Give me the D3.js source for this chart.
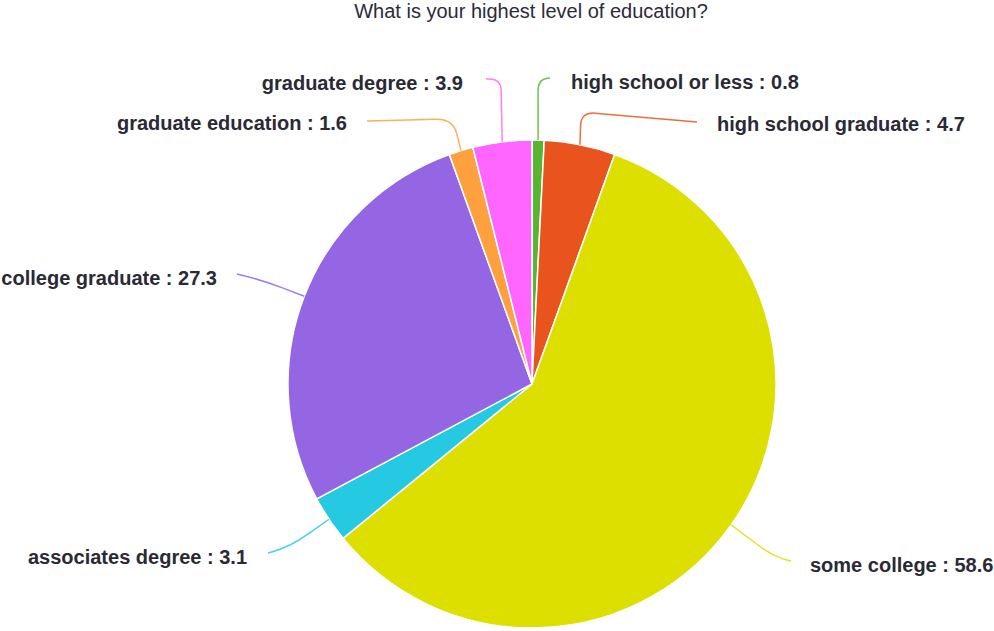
<!DOCTYPE html>
<html>
<head>
<meta charset="utf-8">
<script src="https://cdn.jsdelivr.net/npm/d3@7"></script>
<style>
  html, body { margin: 0; padding: 0; background: #ffffff; }
  svg { display: block; }
</style>
</head>
<body>
<svg id="chart" width="994" height="631"></svg>
<script>
// Survey answers, in drawing order (clockwise from 12 o'clock)
const categories = [
  "high school or less",
  "high school graduate",
  "some college",
  "associates degree",
  "college graduate",
  "graduate education",
  "graduate degree"
];
const values = [0.8, 4.7, 58.6, 3.1, 27.3, 1.6, 3.9];
const colors = ["#58b531", "#e9531d", "#dcdf00", "#26c9e2", "#9466e4", "#ffa03f", "#ff66ff"];
const title = "What is your highest level of education?";

// Label placement: connector elbow/end, corner rounding and text anchor for each slice
const labelLayout = [
  { elbow: [538, 79],  end: [550, 78],  round: 12, tx: 571, ty: 89,  anchor: "start" },
  { elbow: [581, 112], end: [697, 122], round: 14, tx: 717, ty: 131, anchor: "start" },
  { elbow: [774, 557], end: [791, 561], round: 20, tx: 810, ty: 572, anchor: "start" },
  { elbow: [290, 547], end: [268, 553], round: 22, tx: 247, ty: 564, anchor: "end" },
  { elbow: [262, 280], end: [237, 274], round: 22, tx: 217, ty: 285, anchor: "end" },
  { elbow: [453, 119], end: [367, 121], round: 16, tx: 347, ty: 130, anchor: "end" },
  { elbow: [501, 79],  end: [486, 79],  round: 12, tx: 463, ty: 90,  anchor: "end" }
];

const cx = 532, cy = 384, radius = 244;
const svg = d3.select("#chart");

svg.append("text")
  .attr("x", 531)
  .attr("y", 18)
  .attr("text-anchor", "middle")
  .attr("font-family", "Liberation Sans, Arial, sans-serif")
  .attr("font-size", 20)
  .attr("fill", "#2b2b3a")
  .text(title);

const data = categories.map((c, i) => ({ name: c, value: values[i], color: colors[i], layout: labelLayout[i] }));

const pie = d3.pie().sort(null).value(d => d.value);
const arcs = pie(data);

const arc = d3.arc().innerRadius(0).outerRadius(radius);
const edge = d3.arc().innerRadius(radius).outerRadius(radius);

const g = svg.append("g").attr("transform", `translate(${cx},${cy})`);

g.selectAll("path.slice")
  .data(arcs)
  .enter()
  .append("path")
  .attr("class", "slice")
  .attr("d", arc)
  .attr("fill", d => d.data.color)
  .attr("stroke", "#ffffff")
  .attr("stroke-width", 1.5)
  .attr("stroke-linejoin", "round");

// Connector with a rounded elbow: edge point -> elbow -> end
function connector(p0, elbow, end, r0) {
  const d1 = Math.hypot(elbow[0] - p0[0], elbow[1] - p0[1]);
  const d2 = Math.hypot(end[0] - elbow[0], end[1] - elbow[1]);
  const ra = Math.min(r0, d1 * 0.6), rb = Math.min(r0, d2 * 0.8);
  const a = [elbow[0] - (elbow[0] - p0[0]) / d1 * ra, elbow[1] - (elbow[1] - p0[1]) / d1 * ra];
  const b = [elbow[0] + (end[0] - elbow[0]) / d2 * rb, elbow[1] + (end[1] - elbow[1]) / d2 * rb];
  return `M${p0[0]},${p0[1]}L${a[0]},${a[1]}Q${elbow[0]},${elbow[1]} ${b[0]},${b[1]}L${end[0]},${end[1]}`;
}

arcs.forEach(d => {
  const c = edge.centroid(d);
  const p0 = [cx + c[0], cy + c[1]];
  const L = d.data.layout;
  svg.append("path")
    .attr("d", connector(p0, L.elbow, L.end, L.round))
    .attr("fill", "none")
    .attr("stroke", d.data.color)
    .attr("stroke-width", 1.5)
    .attr("stroke-opacity", 0.85);

  svg.append("text")
    .attr("x", L.tx)
    .attr("y", L.ty)
    .attr("text-anchor", L.anchor)
    .attr("font-family", "Liberation Sans, Arial, sans-serif")
    .attr("font-weight", "bold")
    .attr("font-size", 20)
    .attr("fill", "#2a2a35")
    .text(`${d.data.name} : ${d.data.value}`);
});
</script>
</body>
</html>
